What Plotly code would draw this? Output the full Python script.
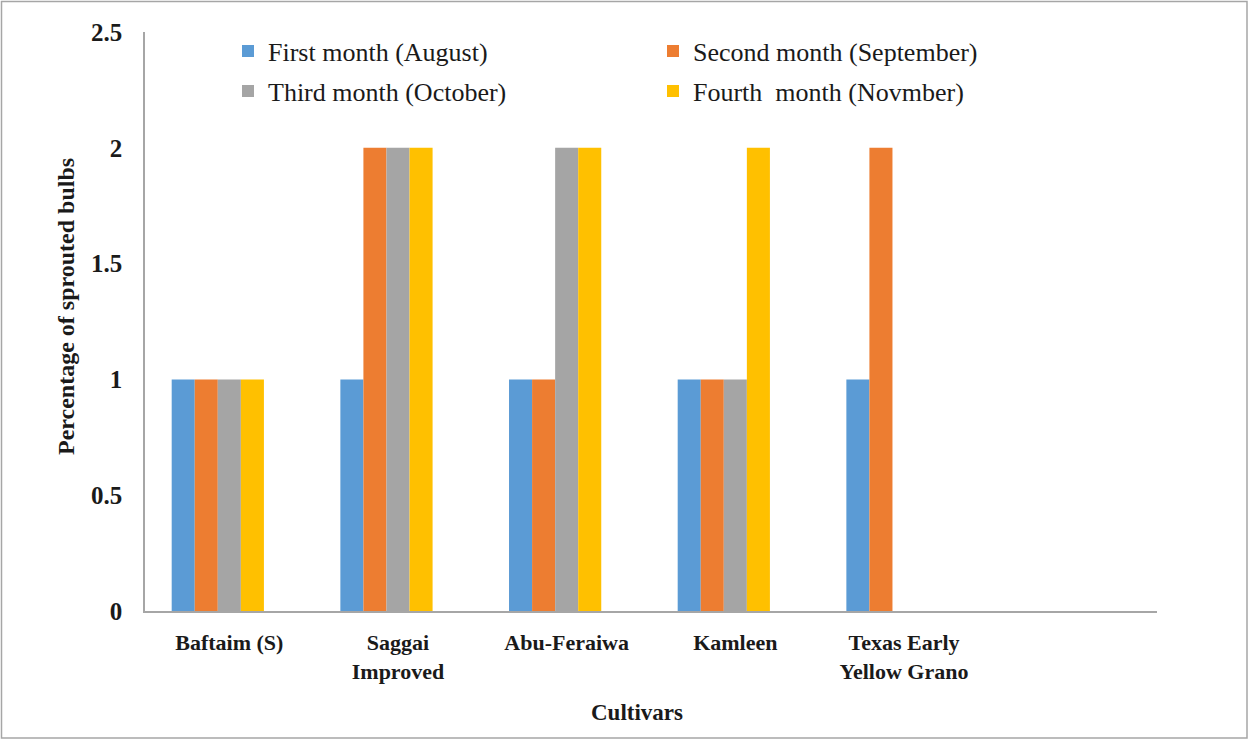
import plotly.graph_objects as go

# Cultivars and monthly sprouting percentages
cultivars = ["Baftaim (S)", "Saggai<br>Improved", "Abu-Feraiwa", "Kamleen", "Texas Early<br>Yellow Grano", ""]
first_month = [1, 1, 1, 1, 1]
second_month = [1, 2, 1, 1, 2]
third_month = [1, 2, 2, 1, None]
fourth_month = [1, 2, 2, 2, None]

series_names = ["First month (August)", "Second month (September)",
                "Third month (October)", "Fourth  month (Novmber)"]
series_values = [first_month, second_month, third_month, fourth_month]
colors = ["#5B9BD5", "#ED7D31", "#A5A5A5", "#FFC000"]
legend_ids = ["legend", "legend", "legend2", "legend2"]

FONT = "Times New Roman"

W, H = 1249, 740
ML, MR, MT, MB = 145, 92, 32, 129
PW, PH = W - ML - MR, H - MT - MB

# Five slots per cluster (last slot unused), each bar 0.1367 of a category
slot = 0.1367
n_slots = 5
start = -slot * n_slots / 2

fig = go.Figure()
x_pos = list(range(len(cultivars)))
for i, (name, vals, col, lg) in enumerate(zip(series_names, series_values, colors, legend_ids)):
    fig.add_trace(go.Bar(
        x=x_pos[:len(vals)], y=vals, name=name,
        marker=dict(color=col, line=dict(width=0)),
        width=slot, offset=start + i * slot,
        legend=lg,
    ))


def px_x(p):
    return (p - ML) / PW


def px_y(p):
    return 1 - (p - MT) / PH


legend_common = dict(
    orientation="h", xanchor="left", yanchor="middle",
    font=dict(family=FONT, size=26, color="#1a1a1a"),
    entrywidth=380, entrywidthmode="pixels",
    itemwidth=30, bgcolor="rgba(0,0,0,0)",
)

fig.update_layout(
    width=W, height=H,
    margin=dict(l=ML, r=MR, t=MT, b=MB),
    paper_bgcolor="white", plot_bgcolor="white",
    barmode="overlay",
    showlegend=True,
    legend=dict(x=px_x(228), y=px_y(51), **legend_common),
    legend2=dict(x=px_x(228), y=px_y(91), **legend_common),
    xaxis=dict(
        range=[-0.5, len(cultivars) - 0.5],
        tickvals=x_pos, ticktext=cultivars,
        tickfont=dict(family=FONT, size=22, color="#1a1a1a", weight="bold"),
        showline=True, linecolor="#A6A6A6", linewidth=1.5,
        ticks="", showgrid=False, zeroline=False,
        ticklabelstandoff=11,
    ),
    yaxis=dict(
        range=[0, 2.5], tickvals=[0, 0.5, 1, 1.5, 2, 2.5],
        ticktext=["0", "0.5", "1", "1.5", "2", "2.5"],
        tickfont=dict(family=FONT, size=25, color="#1a1a1a", weight="bold"),
        showline=True, linecolor="#A6A6A6", linewidth=1.5,
        ticks="", showgrid=False, zeroline=False,
        ticklabelstandoff=16,
    ),
    annotations=[
        dict(text="<b>Cultivars</b>", x=px_x(637), y=px_y(712),
             xref="paper", yref="paper", showarrow=False,
             xanchor="center", yanchor="middle",
             font=dict(family=FONT, size=23, color="#1a1a1a")),
        dict(text="<b>Percentage of sprouted bulbs</b>", x=px_x(66), y=px_y(307),
             xref="paper", yref="paper", showarrow=False, textangle=-90,
             xanchor="center", yanchor="middle",
             font=dict(family=FONT, size=24, color="#1a1a1a")),
    ],
    shapes=[
        dict(type="rect", xref="paper", yref="paper",
             x0=px_x(1.5), x1=px_x(W - 2), y0=px_y(H - 2), y1=px_y(1.5),
             line=dict(color="#A6A6A6", width=1.5), fillcolor="rgba(0,0,0,0)"),
    ],
)

fig.write_html("out.html")
